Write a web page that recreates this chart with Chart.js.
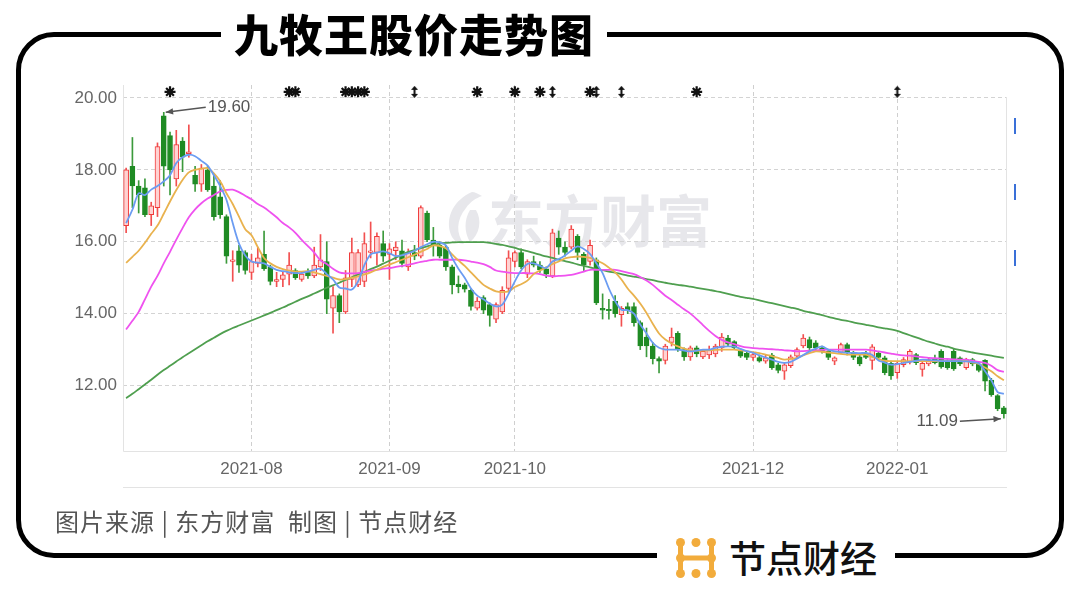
<!DOCTYPE html>
<html>
<head>
<meta charset="utf-8">
<script src="https://cdn.jsdelivr.net/npm/chart.js@4/dist/chart.umd.min.js"></script>
<style>
  html, body { margin: 0; padding: 0; background: #fff; }
  body { width: 1080px; height: 589px; position: relative; overflow: hidden; font-family: "Noto Sans CJK SC", sans-serif; }
  #frame { position: absolute; left: 16px; top: 32px; width: 1048px; height: 526px; box-sizing: border-box; border: 5px solid #000; border-radius: 38px; z-index: 2; }
  #title { position: absolute; left: 221px; top: 3px; width: 386px; height: 60px; line-height: 60px; text-align: center; background: #fff; font-size: 44px; font-weight: 900; color: #000; letter-spacing: 1px; z-index: 3; }
  #mark { position: absolute; left: 442px; top: 186px; height: 64px; z-index: 0; color: #e7e7eb; font-size: 56px; font-weight: 700; line-height: 64px; }
  #mark svg { position: absolute; left: 0; top: 4px; }
  #mark span { position: absolute; left: 46px; top: 0; white-space: nowrap; }
  #src { position: absolute; left: 55px; top: 504px; font-size: 24px; letter-spacing: 1px; line-height: 34px; color: #555; white-space: pre; z-index: 3; }
  #logo { position: absolute; left: 657px; top: 528px; width: 238px; height: 58px; background: #fff; z-index: 3; }
  #logo svg { position: absolute; left: 18px; top: 9px; }
  #logo span { position: absolute; left: 72px; top: 4px; font-size: 37px; line-height: 50px; color: #111; font-weight: 500; }
  #blue { position: absolute; left: 1014px; top: 118px; width: 2px; height: 184px; z-index: 1;
          background: repeating-linear-gradient(to bottom, #3a70d8 0 16px, transparent 16px 66px); }
  #cv { position: absolute; left: 0; top: 0; z-index: 1; }
</style>
</head>
<body>
<div id="mark">
  <svg width="44" height="56" viewBox="0 0 44 56"><path d="M30 2 C12 10 4 26 8 42 C10 50 16 54 22 54 C14 44 14 30 24 18 C28 12 34 8 40 6 C36 4 33 2 30 2 Z M28 20 C22 30 22 42 28 52 C38 44 40 30 34 20 Z" fill="#e7e7eb"/></svg>
  <span>东方财富</span>
</div>
<canvas id="cv" width="1080" height="589"></canvas>
<div id="blue"></div>
<div id="frame"></div>
<div id="title">九牧王股价走势图</div>
<div id="src">图片来源 | 东方财富  制图 | 节点财经</div>
<div id="logo">
  <svg width="42" height="42" viewBox="0 0 42 42">
    <g fill="#f2ac3c">
      <circle cx="5.5" cy="5.5" r="4.5"/><circle cx="5.5" cy="21" r="4.5"/><circle cx="5.5" cy="36.5" r="4.5"/>
      <circle cx="36.5" cy="5.5" r="4.5"/><circle cx="36.5" cy="21" r="4.5"/><circle cx="36.5" cy="36.5" r="4.5"/>
      <circle cx="21" cy="5.5" r="4.5"/><circle cx="21" cy="36.5" r="4.5"/>
      <rect x="3" y="5" width="5" height="32"/>
      <rect x="34" y="5" width="5" height="32"/>
      <rect x="5" y="18.5" width="32" height="5"/>
    </g>
  </svg>
  <span>节点财经</span>
</div>
<script>
// trading days shown on the chart
const tradeDays = {
  '2021-07': [5,6,7,8,9,12,13,14,15,16,19,20,21,22,23,26,27,28,29,30],
  '2021-08': [2,3,4,5,6,9,10,11,12,13,16,17,18,19,20,23,24,25,26,27,30,31],
  '2021-09': [1,2,3,6,7,8,9,10,13,14,15,16,17,22,23,24,27,28,29,30],
  '2021-10': [8,11,12,13,14,15,18,19,20,21,22,25,26,27,28,29],
  '2021-11': [1,2,3,4,5,8,9,10,11,12,15,16,17,18,19,22,23,24,25,26,29,30],
  '2021-12': [1,2,3,6,7,8,9,10,13,14,15,16,17,20,21,22,23,24,27,28,29,30,31],
  '2022-01': [4,5,6,7,10,11,12,13,14,17,18,19,20,21,24,25,26,27]
};
const monthTicks = ['2021-08', '2021-09', '2021-10', '2021-12', '2022-01'];
const yTicks = [12, 14, 16, 18, 20];

const open = [
  16.45,18.10,17.55,17.50,16.75,16.95,19.50,18.95,17.75,18.80,
  18.45,17.85,17.60,18.00,17.55,17.25,16.70,15.45,15.75,15.70,
  15.15,15.40,15.65,15.30,14.90,14.95,15.10,15.20,14.95,15.18,
  15.05,15.30,15.45,14.15,14.50,14.05,14.95,14.80,14.90,15.70,
  15.70,15.95,15.65,15.75,15.75,15.30,15.70,15.60,16.80,16.05,
  15.90,15.85,15.30,14.82,14.80,14.65,14.15,14.45,14.25,13.85,
  14.05,14.70,15.45,15.70,15.10,15.45,15.35,15.25,15.05,16.10,
  15.85,15.85,16.15,15.65,15.45,15.50,14.15,14.12,14.35,13.97,
  14.20,14.20,13.75,13.35,13.10,12.75,12.70,13.20,13.45,13.00,
  12.80,13.05,12.80,12.85,12.88,13.05,13.32,13.22,12.95,12.90,
  12.78,12.78,12.68,12.85,12.58,12.40,12.55,12.82,13.10,13.28,
  13.19,13.05,12.95,12.68,12.92,13.14,12.90,12.80,12.90,12.70,
  12.90,12.77,12.62,12.36,12.58,12.65,12.86,12.45,12.60,12.76,
  12.95,12.68,12.95,12.77,12.50,12.72,12.60,12.70,12.15,11.72,11.38
];
const high = [
  18.05,18.90,17.70,17.75,17.10,18.75,19.60,19.05,19.10,18.90,
  19.25,18.10,18.15,18.10,17.90,17.70,16.75,15.75,15.90,15.75,
  15.65,15.85,16.30,15.35,15.15,15.15,15.70,15.25,15.15,15.25,
  15.85,16.20,16.00,14.75,14.55,15.20,16.10,15.78,16.25,16.55,
  16.25,16.30,15.95,16.00,16.05,15.80,15.90,17.00,16.85,16.40,
  16.00,15.90,15.35,15.05,14.85,14.70,14.45,14.50,14.30,14.30,
  14.75,15.75,15.75,15.80,15.50,15.60,15.45,15.30,16.35,16.30,
  16.00,16.45,16.20,15.70,16.05,15.55,14.55,14.40,14.50,14.20,
  14.30,14.30,13.80,13.60,13.20,12.80,13.15,13.60,13.50,13.05,
  13.10,13.10,13.00,13.10,13.15,13.45,13.40,13.25,13.00,12.95,
  12.90,12.85,12.85,12.90,12.62,12.62,12.85,13.05,13.42,13.35,
  13.25,13.10,13.00,12.80,13.18,13.18,12.95,12.85,12.95,13.14,
  12.95,12.82,12.68,12.66,12.78,13.00,12.90,12.66,12.78,12.85,
  13.00,12.72,13.02,12.80,12.76,12.76,12.65,12.72,12.20,11.75,11.42
];
const low = [
  16.25,16.95,16.80,16.70,16.45,16.70,17.55,17.30,17.55,17.95,
  18.35,17.40,17.40,17.40,16.60,16.65,15.40,14.90,15.15,15.10,
  14.95,15.30,15.20,14.80,14.75,14.75,14.80,14.95,14.90,14.98,
  15.00,15.20,14.00,13.46,13.75,14.00,14.75,14.75,14.75,15.55,
  15.35,15.45,14.95,15.50,15.30,15.20,15.50,15.55,16.00,15.60,
  15.55,15.20,14.55,14.58,14.60,14.10,14.10,14.00,13.65,13.75,
  14.00,14.60,15.30,15.25,15.00,15.30,15.15,15.00,15.00,15.65,
  15.60,15.80,15.50,15.20,15.35,14.25,13.85,13.85,13.90,13.65,
  14.00,13.65,13.00,12.80,12.60,12.35,12.60,13.10,12.95,12.70,
  12.70,12.80,12.75,12.75,12.80,12.95,13.10,13.00,12.78,12.72,
  12.70,12.65,12.62,12.45,12.35,12.17,12.50,12.75,13.05,13.00,
  13.00,12.90,12.72,12.58,12.88,12.85,12.72,12.55,12.75,12.45,
  12.72,12.30,12.17,12.20,12.52,12.60,12.58,12.26,12.55,12.60,
  12.48,12.45,12.42,12.55,12.45,12.55,12.38,11.85,11.70,11.30,11.09
];
const close = [
  18.00,17.55,17.30,16.75,17.00,18.65,18.10,18.00,18.70,18.35,
  18.50,17.60,18.05,17.45,16.70,16.75,15.60,15.50,15.35,15.20,
  15.45,15.55,15.25,14.90,14.95,15.08,15.35,15.00,15.10,15.05,
  15.35,15.50,14.40,14.50,14.05,15.00,15.70,15.70,15.95,15.75,
  16.15,15.60,15.80,15.85,15.40,15.70,15.60,16.95,16.05,15.90,
  15.60,15.30,14.80,14.75,14.68,14.20,14.35,14.10,13.95,14.25,
  14.65,15.55,15.70,15.30,15.45,15.35,15.22,15.10,16.25,15.85,
  15.70,16.35,15.70,15.35,15.90,14.30,14.10,14.08,14.00,14.15,
  14.10,13.75,13.10,13.10,12.75,12.68,13.10,13.35,13.00,12.80,
  13.05,12.88,12.95,13.00,13.10,13.35,13.15,13.05,12.82,12.78,
  12.86,12.68,12.77,12.50,12.42,12.58,12.80,13.00,13.32,13.05,
  13.05,12.95,12.78,12.77,13.14,12.92,12.78,12.60,12.78,13.08,
  12.78,12.36,12.27,12.62,12.72,12.95,12.64,12.62,12.72,12.64,
  12.52,12.50,12.46,12.60,12.72,12.60,12.42,12.12,11.75,11.36,11.22
];

const ma5 = [
  16.52,16.89,17.35,17.30,17.45,17.55,17.68,17.85,18.19,18.35,
  18.42,18.38,18.25,18.12,17.85,17.55,17.17,16.52,15.95,15.62,
  15.45,15.42,15.40,15.30,15.22,15.18,15.15,15.13,15.13,15.17,
  15.22,15.25,15.10,14.95,14.73,14.70,14.67,14.90,15.35,15.65,
  15.70,15.73,15.68,15.60,15.62,15.68,15.75,15.85,15.93,16.00,
  15.98,15.90,15.55,15.25,15.00,14.70,14.50,14.40,14.28,14.20,
  14.25,14.55,14.90,15.20,15.38,15.40,15.33,15.27,15.45,15.52,
  15.62,15.75,15.87,15.80,15.66,15.40,15.13,14.70,14.35,14.11,
  14.10,14.00,13.70,13.45,13.19,13.05,13.00,13.00,13.00,12.97,
  12.95,12.97,13.00,13.00,13.05,13.08,13.09,13.08,13.02,12.96,
  12.91,12.84,12.78,12.72,12.66,12.63,12.66,12.75,12.85,12.95,
  13.03,13.09,13.00,12.95,12.93,12.91,12.91,12.90,12.91,12.85,
  12.70,12.64,12.58,12.60,12.63,12.66,12.69,12.72,12.71,12.70,
  12.68,12.68,12.68,12.68,12.67,12.65,12.62,12.40,12.15,11.82,11.77
];
const ma10 = [
  15.41,15.58,15.75,15.97,16.22,16.45,16.78,17.12,17.44,17.72,
  17.93,18.00,18.03,18.05,17.90,17.68,17.35,17.05,16.70,16.35,
  16.18,15.85,15.55,15.40,15.30,15.24,15.20,15.17,15.17,15.18,
  15.15,15.10,15.05,15.00,14.95,14.96,15.00,15.04,15.09,15.15,
  15.22,15.30,15.37,15.43,15.50,15.57,15.64,15.72,15.80,15.90,
  15.88,15.82,15.65,15.48,15.33,15.15,14.97,14.80,14.70,14.62,
  14.60,14.62,14.74,14.82,14.92,15.10,15.20,15.28,15.38,15.45,
  15.54,15.57,15.59,15.58,15.55,15.48,15.40,15.28,15.15,14.95,
  14.70,14.50,14.28,14.02,13.72,13.45,13.28,13.17,13.09,13.03,
  12.98,12.97,12.97,12.98,12.99,13.00,13.00,13.00,12.98,12.96,
  12.93,12.90,12.86,12.82,12.77,12.72,12.74,12.77,12.84,12.90,
  12.95,12.94,12.92,12.90,12.88,12.86,12.86,12.86,12.86,12.80,
  12.74,12.69,12.68,12.68,12.68,12.68,12.68,12.68,12.68,12.68,
  12.68,12.68,12.68,12.68,12.68,12.64,12.60,12.50,12.40,12.26,12.15
];
const ma20 = [
  13.56,13.80,14.05,14.40,14.75,15.05,15.40,15.72,16.06,16.38,
  16.68,16.90,17.07,17.20,17.30,17.40,17.44,17.45,17.38,17.28,
  17.18,17.05,16.95,16.82,16.68,16.52,16.40,16.25,16.05,15.88,
  15.70,15.48,15.38,15.25,15.15,15.12,15.12,15.13,15.16,15.20,
  15.22,15.25,15.27,15.30,15.33,15.36,15.40,15.44,15.47,15.50,
  15.50,15.50,15.50,15.50,15.48,15.45,15.42,15.38,15.30,15.20,
  15.17,15.14,15.13,15.13,15.13,15.12,15.10,15.06,15.04,15.05,
  15.06,15.08,15.12,15.17,15.22,15.22,15.22,15.22,15.22,15.18,
  15.14,15.10,15.02,14.92,14.80,14.65,14.50,14.38,14.25,14.12,
  14.00,13.85,13.68,13.52,13.38,13.27,13.20,13.15,13.10,13.06,
  13.04,13.03,13.02,13.01,13.00,12.98,12.97,12.95,12.96,12.97,
  12.98,12.99,13.00,13.00,13.00,13.00,13.00,13.00,13.00,12.98,
  12.95,12.92,12.89,12.86,12.84,12.83,12.81,12.79,12.77,12.76,
  12.75,12.74,12.73,12.72,12.72,12.69,12.66,12.63,12.55,12.43,12.38
];
const ma60 = [
  11.65,11.77,11.90,12.03,12.16,12.30,12.43,12.55,12.67,12.79,
  12.90,13.01,13.12,13.23,13.33,13.43,13.52,13.60,13.67,13.74,
  13.81,13.88,13.95,14.02,14.10,14.17,14.25,14.33,14.41,14.48,
  14.56,14.64,14.72,14.79,14.86,14.94,15.01,15.09,15.16,15.24,
  15.31,15.39,15.47,15.56,15.64,15.72,15.77,15.82,15.87,15.91,
  15.95,15.97,15.98,15.99,15.99,15.99,15.99,15.99,15.97,15.94,
  15.91,15.87,15.83,15.78,15.74,15.69,15.64,15.59,15.55,15.50,
  15.46,15.42,15.37,15.33,15.29,15.24,15.21,15.17,15.14,15.10,
  15.06,15.03,15.00,14.96,14.93,14.89,14.86,14.83,14.80,14.78,
  14.75,14.72,14.69,14.66,14.63,14.59,14.55,14.51,14.47,14.44,
  14.41,14.37,14.33,14.29,14.25,14.21,14.17,14.13,14.08,14.04,
  14.00,13.96,13.91,13.87,13.83,13.80,13.76,13.72,13.69,13.66,
  13.62,13.59,13.56,13.52,13.46,13.40,13.34,13.28,13.22,13.17,
  13.12,13.08,13.03,12.99,12.95,12.92,12.89,12.86,12.83,12.80,12.77
];

// event markers shown above the price area
const starDates = ['2021-07-14','2021-08-10','2021-08-11','2021-08-23','2021-08-24','2021-08-25',
  '2021-08-26','2021-09-23','2021-10-08','2021-10-14','2021-10-26','2021-11-18'];
const arrowDates = ['2021-09-07','2021-10-18','2021-10-27','2021-11-02','2022-01-04'];

const labels = [];
Object.keys(tradeDays).forEach(m => {
  tradeDays[m].forEach(d => labels.push(m + '-' + String(d).padStart(2, '0')));
});
const monthIdx = monthTicks.map(m => labels.findIndex(l => l.startsWith(m)));

const RED = '#f03a3a';
const GREEN = '#1f8b24';
const up = close.map((c, i) => c >= open[i]);

const markerY = 20.17;
const markerData = labels.map(l => (starDates.includes(l) || arrowDates.includes(l)) ? markerY : null);

// little double-headed arrow glyph
const arrowGlyph = document.createElement('canvas');
arrowGlyph.width = 7; arrowGlyph.height = 12;
(function () {
  const g = arrowGlyph.getContext('2d');
  g.fillStyle = '#111';
  g.fillRect(2.5, 2, 2, 8);
  g.beginPath(); g.moveTo(0, 4); g.lineTo(3.5, 0); g.lineTo(7, 4); g.fill();
  g.beginPath(); g.moveTo(0, 8); g.lineTo(3.5, 12); g.lineTo(7, 8); g.fill();
})();

const plotFrame = {
  id: 'plotFrame',
  beforeDatasetsDraw(chart) {
    const { ctx, chartArea: a } = chart;
    ctx.save();
    ctx.strokeStyle = '#e3e3e3';
    ctx.lineWidth = 1;
    ctx.beginPath();
    ctx.moveTo(a.left + 0.5, a.top); ctx.lineTo(a.left + 0.5, a.bottom + 0.5);
    ctx.lineTo(a.right - 0.5, a.bottom + 0.5); ctx.lineTo(a.right - 0.5, a.top + 12);
    ctx.moveTo(a.left, a.bottom + 36.5); ctx.lineTo(a.right, a.bottom + 36.5);
    ctx.stroke();
    ctx.restore();
  }
};

function drawArrow(ctx, x1, y1, x2, y2) {
  ctx.beginPath(); ctx.moveTo(x1, y1); ctx.lineTo(x2, y2); ctx.stroke();
  const ang = Math.atan2(y2 - y1, x2 - x1);
  ctx.beginPath();
  ctx.moveTo(x2, y2);
  ctx.lineTo(x2 - 8 * Math.cos(ang - 0.4), y2 - 8 * Math.sin(ang - 0.4));
  ctx.lineTo(x2 - 8 * Math.cos(ang + 0.4), y2 - 8 * Math.sin(ang + 0.4));
  ctx.closePath(); ctx.fill();
}

const extremes = {
  id: 'extremes',
  afterDatasetsDraw(chart) {
    const { ctx, scales: { x, y } } = chart;
    const hi = high.indexOf(Math.max(...high));
    const lo = low.indexOf(Math.min(...low));
    ctx.save();
    ctx.strokeStyle = '#555'; ctx.fillStyle = '#555'; ctx.lineWidth = 1.5;
    ctx.font = '17px "Liberation Sans", Arial, sans-serif';
    ctx.textBaseline = 'middle';
    let px = x.getPixelForValue(hi), py = y.getPixelForValue(high[hi]);
    drawArrow(ctx, px + 42, py - 5, px + 2, py);
    ctx.textAlign = 'left';
    ctx.fillText(high[hi].toFixed(2), px + 44, py - 5);
    px = x.getPixelForValue(lo); py = y.getPixelForValue(low[lo]);
    drawArrow(ctx, px - 44, py + 3, px - 3, py + 0.5);
    ctx.textAlign = 'right';
    ctx.fillText(low[lo].toFixed(2), px - 46, py + 3);
    ctx.restore();
  }
};

function maLine(label, data, color) {
  return { type: 'line', label, data, borderColor: color, borderWidth: 1.8,
           pointRadius: 0, tension: 0.3, order: 0 };
}

new Chart(document.getElementById('cv'), {
  type: 'bar',
  data: {
    labels,
    datasets: [
      { label: 'wick', data: low.map((l, i) => [l, high[i]]),
        backgroundColor: up.map(u => u ? '#f25050' : '#3c9a3c'),
        barThickness: 1, grouped: false, order: 3 },
      { label: 'body', data: open.map((o, i) => [o, close[i]]),
        backgroundColor: up.map(u => u ? '#ffd2d2' : GREEN),
        borderColor: up.map(u => u ? RED : GREEN),
        borderWidth: 1, borderSkipped: false,
        barThickness: 5, grouped: false, order: 2 },
      maLine('MA5', ma5, '#6b9cf2'),
      maLine('MA10', ma10, '#e9b24e'),
      maLine('MA20', ma20, '#ef52ef'),
      maLine('MA60', ma60, '#4f9f4f'),
      { type: 'line', label: 'events', data: markerData, showLine: false, order: 0,
        pointStyle: c => arrowDates.includes(labels[c.dataIndex]) ? arrowGlyph : 'star',
        pointRadius: 5.5, borderWidth: 2.2, borderColor: '#111', backgroundColor: '#111' }
    ]
  },
  options: {
    responsive: false,
    animation: false,
    layout: { padding: { top: 85, right: 73, bottom: 0, left: 0 } },
    plugins: { legend: { display: false }, tooltip: { enabled: false } },
    scales: {
      x: {
        offset: true,
        afterFit: s => { s.height = 138; },
        grid: { offset: false, drawTicks: false,
                color: c => monthIdx.includes(c.index) ? '#cfcfcf' : 'rgba(0,0,0,0)' },
        border: { display: false, dash: [4, 3] },
        ticks: {
          autoSkip: false, maxRotation: 0, minRotation: 0, padding: 8,
          color: '#666', font: { family: '"Liberation Sans", Arial, sans-serif', size: 17 },
          callback: (v, i) => monthIdx.includes(i) ? labels[i].slice(0, 7) : ''
        }
      },
      y: {
        min: 10.18, max: 20.36,
        afterFit: s => { s.width = 123; },
        afterBuildTicks: s => { s.ticks = yTicks.map(v => ({ value: v })); },
        grid: { drawTicks: false, color: '#d3d3d3' },
        border: { display: false, dash: [4, 3] },
        ticks: { padding: 6, color: '#666',
                 font: { family: '"Liberation Sans", Arial, sans-serif', size: 17 },
                 callback: v => Number(v).toFixed(2) }
      }
    }
  },
  plugins: [plotFrame, extremes]
});
</script>
</body>
</html>
